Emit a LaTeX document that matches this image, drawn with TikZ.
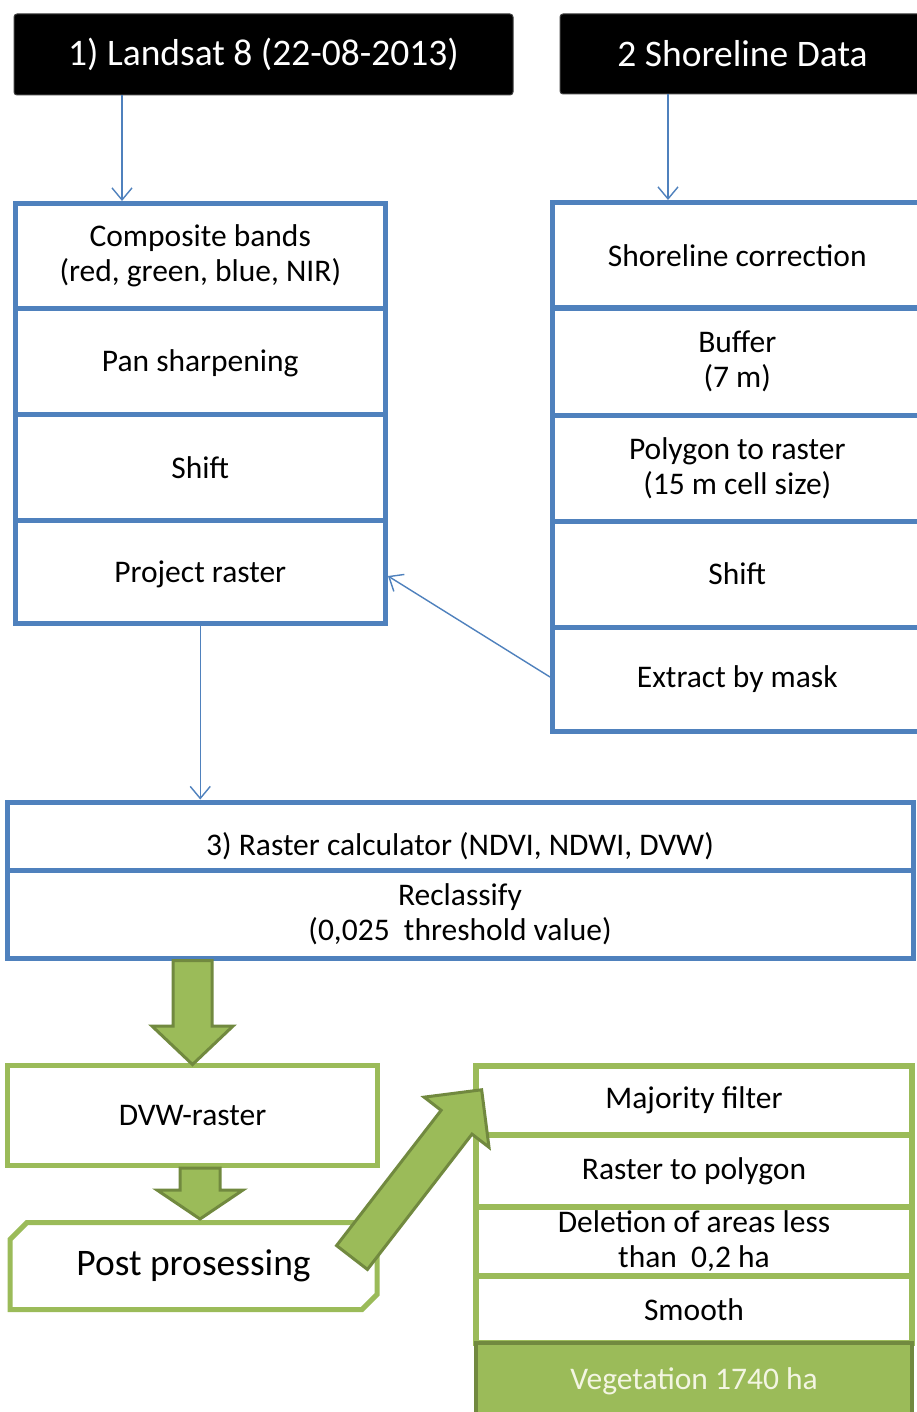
\documentclass[tikz,border=0pt]{standalone}
\usepackage{fontspec}
\setmainfont{Carlito}
\usetikzlibrary{arrows.meta,shapes.arrows,calc}
\definecolor{bl}{HTML}{4F81BD}
\definecolor{gr}{HTML}{9BBB59}
\definecolor{dg}{HTML}{71893F}
\definecolor{vegtext}{HTML}{F3F5E2}
\begin{document}
\begin{tikzpicture}[x=1pt,y=-1pt,
  font=\fontsize{31.5}{35}\selectfont,
  titlebox/.style={fill=black,draw=black!75,line width=1pt,rounded corners=3pt,text=white,
    font=\fontsize{37.5}{42}\selectfont,inner sep=0pt,align=center},
  bluebox/.style={draw=bl,line width=5pt,inner sep=0pt,align=center},
  greenbox/.style={draw=gr,line width=6pt,inner sep=0pt,align=center,minimum width=436pt},
  barrow/.style={draw=bl,line width=1.4pt,-{Straight Barb[length=12pt,width=20pt]}},
  garrow/.style={single arrow,draw=dg,fill=gr,line width=3pt,inner xsep=0pt,outer sep=0pt,
    single arrow head indent=0pt}
]
\fill[white] (0,0) rectangle (917,1412);
\useasboundingbox (0,0) rectangle (917,1412);
\clip (0,0) rectangle (917,1412);

% titles
\node[titlebox,minimum width=499pt,minimum height=81pt] (t1) at (263.5,54.5) {1) Landsat 8 (22-08-2013)};
\node[titlebox,minimum width=365pt,minimum height=80pt] (t2) at (742.5,54) {2 Shoreline Data};

% left stack
\node[bluebox,minimum width=370.5pt,minimum height=105pt] (comp) at (200.25,256) {Composite bands\\(red, green, blue, NIR)};
\node[bluebox,minimum width=370.5pt,minimum height=105.5pt] (pan) at (200.25,361.25) {\raisebox{-2pt}[\height][\depth]{Pan sharpening}};
\node[bluebox,minimum width=370.5pt,minimum height=106.5pt] (shiftl) at (200.25,467.25) {Shift};
\node[bluebox,minimum width=370.5pt,minimum height=103pt] (proj) at (200.25,572) {\raisebox{-2pt}[\height][\depth]{Project raster}};

% right stack
\node[bluebox,minimum width=369.5pt,minimum height=105.5pt] (shore) at (737.25,255.25) {Shoreline correction};
\node[bluebox,minimum width=369.5pt,minimum height=107pt] (buffer) at (737.25,361.5) {Buffer\\(7 m)};
\node[bluebox,minimum width=369.5pt,minimum height=106pt] (ptr) at (737.25,468) {Polygon to raster\\(15 m cell size)};
\node[bluebox,minimum width=369.5pt,minimum height=106pt] (shiftr) at (737.25,574) {Shift};
\node[bluebox,minimum width=369.5pt,minimum height=104pt] (ext) at (737.25,679) {Extract by mask};

% raster calculator
\node[bluebox,minimum width=906pt,minimum height=68pt] (calc1) at (460,836) {\raisebox{-10pt}[\height][\depth]{3) Raster calculator (NDVI, NDWI, DVW)}};
\node[bluebox,minimum width=906pt,minimum height=88pt] (calc2) at (460,914) {Reclassify\\(0,025\ \ threshold value)};

% green part
\node[draw=gr,line width=5pt,inner sep=0pt,minimum width=370pt,minimum height=100pt] (dvw) at (192.5,1115.5) {DVW-raster};
\node[inner sep=0pt,outer sep=0pt,minimum width=367pt,minimum height=87pt,font=\fontsize{37.5}{42}\selectfont] (post) at (193.5,1266) {Post prosessing};
\draw[draw=gr,line width=5pt,line join=miter]
  ([xshift=17pt]post.north west) -- (post.north east) -- ([yshift=15pt]post.south east)
  -- ([xshift=-15pt]post.south east) -- (post.south west) -- ([yshift=-17pt]post.north west) -- cycle;

\node[greenbox,minimum height=69pt] (maj) at (694,1100.5) {Majority filter};
\node[greenbox,minimum height=72pt] (rtp) at (694,1171) {Raster to polygon};
\node[greenbox,minimum height=69pt] (del) at (694,1241.5) {Deletion of areas less\\than\ \ 0,2 ha};
\node[greenbox,minimum height=67pt] (smooth) at (694,1309.5) {Smooth};
\node[draw=dg,fill=gr,line width=4pt,inner sep=0pt,minimum width=436pt,minimum height=77pt,text=vegtext] (veg) at (694,1381.5) {Vegetation 1740 ha};

% blue connectors
\draw[barrow] ([xshift=-141.5pt]t1.south) -- ([xshift=-141.5pt]t1.south |- comp.north);
\draw[barrow] ([xshift=-74.5pt]t2.south) -- ([xshift=-74.5pt]t2.south |- shore.north);
\draw[barrow] (proj.south) -- (proj.south |- calc1.north);
\draw[barrow] ([yshift=2pt]ext.west) -- ([yshift=-4pt]proj.east);

% green block arrows
\node[garrow,rotate=-90,anchor=tail,inner ysep=18pt,minimum height=104pt,minimum width=80pt,
  single arrow head extend=21pt,single arrow tip angle=93] (ga1) at (dvw.north |- calc2.south) {};
\node[garrow,rotate=-90,anchor=tail,inner ysep=18.5pt,minimum height=51pt,minimum width=83pt,
  single arrow head extend=23pt,single arrow tip angle=112] (ga2) at ([xshift=7.5pt]dvw.south) {};
\node[garrow,rotate=52.3,anchor=tail,inner ysep=18pt,minimum height=212pt,minimum width=79pt,
  single arrow head extend=21.5pt,single arrow tip angle=90] (ga3) at ([xshift=-25pt,yshift=-35pt]post.north east) {};
\end{tikzpicture}
\end{document}
